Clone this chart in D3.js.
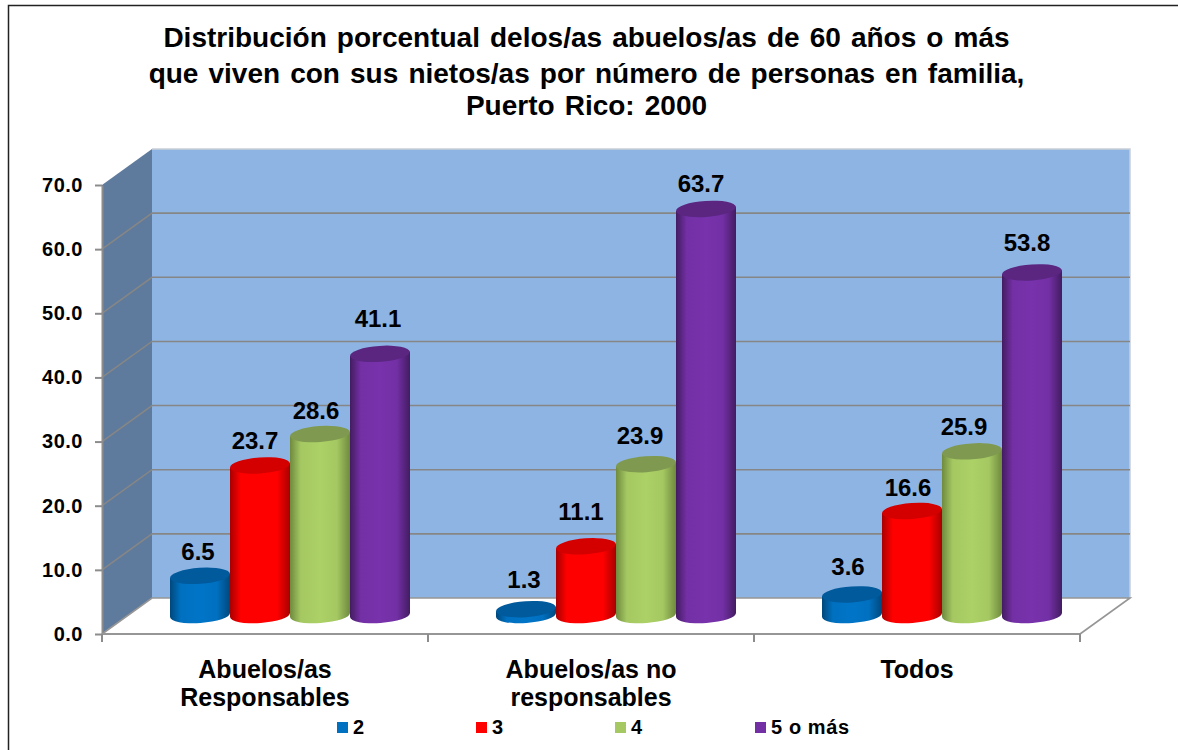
<!DOCTYPE html>
<html>
<head>
<meta charset="utf-8">
<style>
    html, body { margin: 0; padding: 0; background: #fff; }
    svg { display: block; }
    text { font-family: "Liberation Sans", Arial, sans-serif; font-weight: bold; fill: #000; }
</style>
<script src="https://d3js.org/d3.v7.min.js"></script>
</head>
<body>
<div id="chart"></div>
<script>
    // data
    var titleLines = [
        "Distribución porcentual delos/as abuelos/as de 60 años o más",
        "que viven con sus nietos/as por número de personas en familia,",
        "Puerto Rico: 2000"
    ];
    var categories = [["Abuelos/as", "Responsables"], ["Abuelos/as no", "responsables"], ["Todos"]];
    var seriesNames = ["2", "3", "4", "5 o más"];
    var values2 = [6.5, 1.3, 3.6];
    var values3 = [23.7, 11.1, 16.6];
    var values4 = [28.6, 23.9, 25.9];
    var values5 = [41.1, 63.7, 53.8];
    var yTicks = [0, 10, 20, 30, 40, 50, 60, 70];

    var width = 1178, height = 750;
    var left = 102, right = 1080, bottom = 634, top_ = 185;
    var depthX = 50, depthY = -36;   // how far the back wall sits from the front axes

    var bodyColor = ["#0070c0", "#ff0000", "#a5c862", "#7330a5"];
    var edgeColor = ["#00487c", "#a80000", "#6f8a3e", "#431c61"];
    var capColor = ["#005a9c", "#d40000", "#7f9a50", "#5a2680"];
    var legendX = [337, 476, 615, 755];

    // hand placed labels in the original: [dx from bar centre, lift above cap centre]
    var labelNudge = [
        [[-2, 16], [-5, 16], [-4, 15], [-2, 27]],
        [[-2, 21], [-5, 26], [-6, 20], [-5, 17]],
        [[-4, 19], [-4, 15], [-8, 16], [-5, 21]]
    ];

    var svg = d3.select("#chart").append("svg").attr("width", width).attr("height", height);

    var x = d3.scaleBand().domain(d3.range(categories.length)).range([left, right]);
    var y = d3.scaleLinear().domain([0, 70]).range([bottom, top_]);
    var inner = d3.scaleBand().domain(d3.range(seriesNames.length)).range([-120, 120]);

    var rows = [values2, values3, values4, values5];

    // gradients for the cylinders
    var defs = svg.append("defs");
    bodyColor.forEach(function (c, i) {
        var g = defs.append("linearGradient").attr("id", "cyl" + i);
        g.append("stop").attr("offset", "0%").attr("stop-color", edgeColor[i]);
        g.append("stop").attr("offset", "18%").attr("stop-color", c);
        g.append("stop").attr("offset", "50%").attr("stop-color", d3.rgb(c).brighter(0.12));
        g.append("stop").attr("offset", "78%").attr("stop-color", c);
        g.append("stop").attr("offset", "100%").attr("stop-color", edgeColor[i]);
    });

    // outer frame
    svg.append("path").attr("d", "M8.5,750V5.5H1178").attr("fill", "none").attr("stroke", "#222").attr("stroke-width", 1.5);

    // title
    svg.append("g").selectAll("text").data(titleLines).enter().append("text")
        .attr("x", 586.5)
        .attr("y", function (d, i) { return [47, 83, 115][i]; })
        .attr("text-anchor", "middle")
        .style("font-size", "28px")
        .style("word-spacing", "2.3px")
        .text(function (d) { return d; });

    // walls and floor
    var walls = svg.append("g");
    walls.append("path")
        .attr("d", "M" + left + "," + y(0) + "L" + left + "," + y(70) + "l" + depthX + "," + depthY + "V" + (y(0) + depthY) + "Z")
        .attr("fill", "#5e7a9c");
    walls.append("rect")
        .attr("x", left + depthX).attr("y", y(70) + depthY)
        .attr("width", right - left).attr("height", y(0) - y(70))
        .attr("fill", "#8eb4e3");
    walls.append("path")
        .attr("d", "M" + (left + depthX) + "," + (y(70) + depthY) + "H" + (right + depthX) + "V" + (y(0) + depthY))
        .attr("fill", "none").attr("stroke", "#c8d0d8").attr("stroke-width", 1.5);

    // gridlines run along the side wall and then across the back
    yTicks.slice(1, -1).forEach(function (t) {
        walls.append("path")
            .attr("d", "M" + left + "," + y(t) + "l" + depthX + "," + depthY + "H" + (right + depthX))
            .attr("fill", "none").attr("stroke", "#868686").attr("stroke-width", 1.6);
    });
    walls.append("path")
        .attr("d", "M" + left + "," + y(0) + "l" + depthX + "," + depthY + "H" + (right + depthX) + "L" + right + "," + y(0))
        .attr("fill", "none").attr("stroke", "#969696").attr("stroke-width", 1.6);

    // y axis
    var yAxis = svg.append("g")
        .attr("transform", "translate(" + left + ",0)")
        .call(d3.axisLeft(y).tickValues(yTicks).tickSize(7).tickSizeOuter(0).tickPadding(12).tickFormat(d3.format(".1f")));
    yAxis.selectAll("path, line").attr("stroke", "#8c8c8c").attr("stroke-width", 2);
    yAxis.selectAll("text").style("font-size", "20px").style("letter-spacing", "0.5px")
        .style("font-family", "'Liberation Sans', Arial, sans-serif").attr("fill", "#000");

    // x axis
    svg.append("line").attr("x1", left).attr("x2", right).attr("y1", y(0)).attr("y2", y(0))
        .attr("stroke", "#969696").attr("stroke-width", 2);
    d3.range(categories.length + 1).forEach(function (i) {
        var px = left + i * x.bandwidth();
        svg.append("line").attr("x1", px).attr("x2", px).attr("y1", y(0)).attr("y2", y(0) + 8)
            .attr("stroke", "#8c8c8c").attr("stroke-width", 2);
    });
    categories.forEach(function (lines, i) {
        var t = svg.append("text")
            .attr("x", x(i) + x.bandwidth() / 2)
            .attr("y", 678)
            .attr("text-anchor", "middle")
            .style("font-size", "25px");
        lines.forEach(function (s, j) {
            t.append("tspan").attr("x", x(i) + x.bandwidth() / 2).attr("dy", j ? 28 : 0).text(s);
        });
    });

    // cylinders
    var rx = inner.bandwidth() / 2, ry = 8, tilt = -4;
    var midX = depthX / 2, midY = depthY / 2 + 1.5;
    var bars = svg.append("g");
    categories.forEach(function (c, ci) {
        var cx0 = x(ci) + x.bandwidth() / 2 + midX;
        rows.forEach(function (vals, si) {
            var cx = cx0 + inner(si) + rx;
            var yTop = y(vals[ci]) + midY;
            var yBase = y(0) + midY - 2.5;
            var drop = rx * Math.sin(tilt * Math.PI / 180);
            bars.append("path")
                .attr("d", "M" + (cx - rx) + "," + (yTop - drop)
                    + "V" + (yBase - drop)
                    + "A" + rx + "," + ry + " " + tilt + " 0 0 " + (cx + rx) + "," + (yBase + drop)
                    + "V" + (yTop + drop) + "Z")
                .attr("fill", "url(#cyl" + si + ")");
            bars.append("ellipse")
                .attr("transform", "translate(" + cx + "," + yTop + ") rotate(" + tilt + ")")
                .attr("rx", rx).attr("ry", ry)
                .attr("fill", capColor[si]);
        });
    });

    // value labels, on top of everything
    categories.forEach(function (c, ci) {
        var cx0 = x(ci) + x.bandwidth() / 2 + midX;
        rows.forEach(function (vals, si) {
            svg.append("text")
                .attr("x", cx0 + inner(si) + rx + labelNudge[ci][si][0])
                .attr("y", y(vals[ci]) + midY - labelNudge[ci][si][1])
                .attr("text-anchor", "middle")
                .style("font-size", "24px")
                .text(d3.format(".1f")(vals[ci]));
        });
    });

    // legend
    var leg = svg.append("g").selectAll("g").data(seriesNames).enter().append("g")
        .attr("transform", function (d, i) { return "translate(" + legendX[i] + ",722)"; });
    leg.append("rect").attr("width", 11).attr("height", 11).attr("fill", function (d, i) { return bodyColor[i]; });
    leg.append("text").attr("x", 16).attr("y", 12).style("font-size", "20px").style("letter-spacing", "0.6px")
        .text(function (d) { return d; });
</script>
</body>
</html>
